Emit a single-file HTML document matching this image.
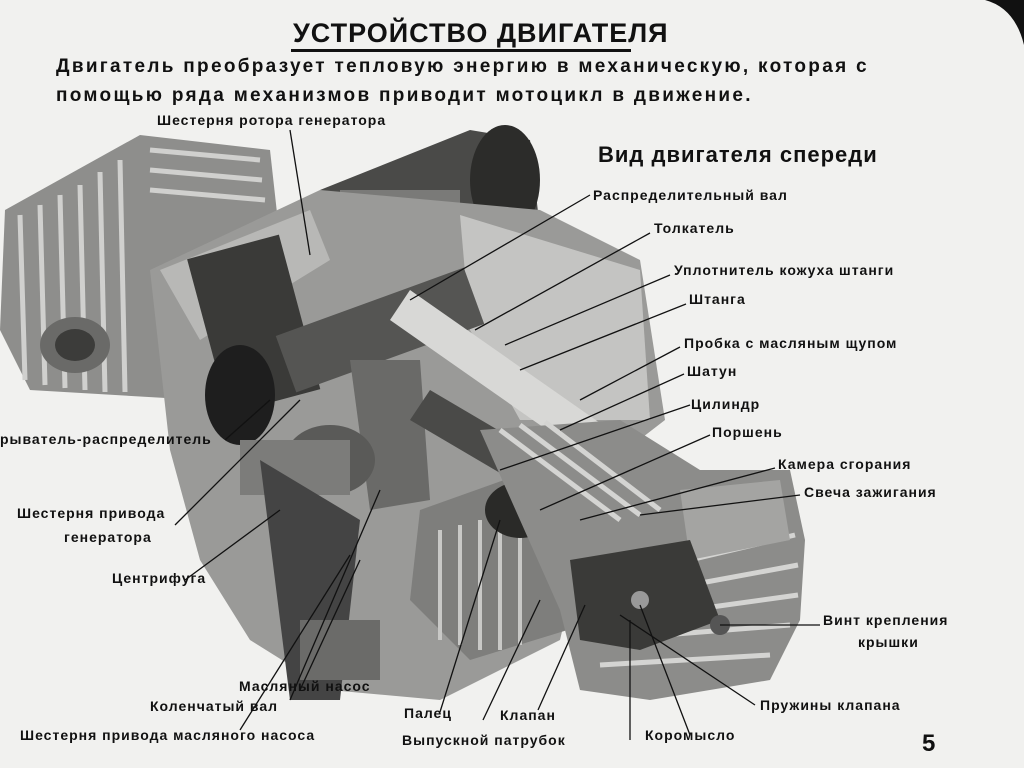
<!DOCTYPE html>
<html><head><meta charset="utf-8"><style>
html,body{margin:0;padding:0;background:#f1f1ef;}
svg{display:block}
text{font-family:"Liberation Sans","DejaVu Sans",sans-serif;fill:#111;}
.l{font-size:14px;letter-spacing:1px;font-weight:bold}
</style></head><body>
<svg width="1024" height="768" viewBox="0 0 1024 768" xmlns="http://www.w3.org/2000/svg">
<rect width="1024" height="768" fill="#f1f1ef"/>
<path d="M985,0 L1024,0 L1024,45 Q1015,8 985,0 Z" fill="#111"/>
<!-- Title -->
<text x="293" y="42" font-size="27" font-weight="bold" letter-spacing="1">УСТРОЙСТВО ДВИГАТЕЛЯ</text>
<rect x="291" y="49" width="340" height="3" fill="#111"/>
<text x="56" y="72" font-size="19" font-weight="bold" letter-spacing="2.3">Двигатель преобразует тепловую энергию в механическую, которая с</text>
<text x="56" y="101" font-size="19" font-weight="bold" letter-spacing="2.3">помощью ряда механизмов приводит мотоцикл в движение.</text>
<text x="598" y="162" font-size="22" font-weight="bold" letter-spacing="1">Вид двигателя спереди</text>

<!-- Engine drawing -->
<g>
<path d="M5,210 L140,135 L270,150 L290,330 L200,400 L30,390 L0,330 Z" fill="#8e8e8c"/>
<g stroke="#d0d0ce" stroke-width="5">
<line x1="20" y1="215" x2="25" y2="380"/><line x1="40" y1="205" x2="45" y2="385"/><line x1="60" y1="195" x2="65" y2="388"/><line x1="80" y1="185" x2="85" y2="390"/><line x1="100" y1="172" x2="105" y2="392"/><line x1="120" y1="160" x2="125" y2="392"/>
<line x1="150" y1="150" x2="260" y2="160"/><line x1="150" y1="170" x2="262" y2="180"/><line x1="150" y1="190" x2="265" y2="200"/>
</g>
<ellipse cx="75" cy="345" rx="35" ry="28" fill="#6a6a68"/>
<ellipse cx="75" cy="345" rx="20" ry="16" fill="#3c3c3a"/>
<path d="M320,190 L470,130 L530,140 L540,230 L430,290 L320,280 Z" fill="#4a4a48"/>
<ellipse cx="505" cy="180" rx="35" ry="55" fill="#2c2c2a"/>
<rect x="340" y="190" width="120" height="80" fill="#7a7a78"/>
<path d="M150,270 L320,190 L540,210 L640,260 L665,420 L600,470 L560,640 L440,700 L330,690 L250,640 L200,560 L170,450 Z" fill="#9a9a98"/>
<path d="M160,270 L310,210 L330,260 L200,340 Z" fill="#b8b8b6"/>
<rect x="205" y="245" width="95" height="160" fill="#3a3a38" transform="rotate(-15 250 320)"/>
<ellipse cx="240" cy="395" rx="35" ry="50" fill="#1e1e1e"/>
<path d="M460,215 L640,270 L650,420 L520,420 L470,330 Z" fill="#c4c4c2"/>
<rect x="280" y="300" width="200" height="60" fill="#555553" transform="rotate(-20 380 330)"/>
<path d="M350,360 L420,360 L430,500 L370,510 Z" fill="#6a6a68"/>
<ellipse cx="330" cy="460" rx="45" ry="35" fill="#5a5a58"/>
<rect x="240" y="440" width="110" height="55" fill="#7c7c7a"/>
<path d="M260,460 L290,700 L340,700 L360,520 Z" fill="#444"/>
<rect x="300" y="620" width="80" height="60" fill="#6b6b69"/>
<path d="M420,510 L560,460 L640,520 L600,620 L470,660 L410,600 Z" fill="#7e7e7c"/>
<g stroke="#c8c8c6" stroke-width="4">
<line x1="440" y1="530" x2="440" y2="640"/><line x1="460" y1="525" x2="460" y2="645"/><line x1="480" y1="520" x2="480" y2="650"/><line x1="500" y1="515" x2="500" y2="650"/><line x1="520" y1="510" x2="520" y2="645"/>
</g>
<path d="M410,290 L610,430 L590,460 L390,320 Z" fill="#d8d8d6"/>
<path d="M430,390 L600,490 L580,520 L410,420 Z" fill="#4a4a48"/>
<ellipse cx="520" cy="510" rx="35" ry="28" fill="#2a2a28"/>
<path d="M480,430 L620,420 L700,470 L790,470 L805,540 L800,620 L770,680 L650,700 L580,690 L560,610 Z" fill="#8c8c8a"/>
<g stroke="#d4d4d2" stroke-width="5">
<line x1="500" y1="430" x2="620" y2="520"/><line x1="520" y1="425" x2="640" y2="515"/><line x1="545" y1="422" x2="660" y2="510"/>
<line x1="690" y1="560" x2="795" y2="535"/><line x1="690" y1="585" x2="798" y2="565"/><line x1="690" y1="610" x2="798" y2="595"/><line x1="600" y1="640" x2="790" y2="625"/><line x1="600" y1="665" x2="770" y2="655"/>
</g>
<path d="M680,490 L780,480 L790,540 L690,560 Z" fill="#a4a4a2"/>
<path d="M570,560 L690,540 L720,620 L640,650 L580,640 Z" fill="#3a3a38"/>
<circle cx="720" cy="625" r="10" fill="#555"/>
<circle cx="640" cy="600" r="9" fill="#999"/>
</g>

<g stroke="#111" stroke-width="1.3" fill="none">
<line x1="290" y1="130" x2="310" y2="255"/>
<line x1="590" y1="195" x2="410" y2="300"/>
<line x1="650" y1="233" x2="475" y2="330"/>
<line x1="670" y1="275" x2="505" y2="345"/>
<line x1="686" y1="304" x2="520" y2="370"/>
<line x1="680" y1="347" x2="580" y2="400"/>
<line x1="684" y1="374" x2="560" y2="430"/>
<line x1="690" y1="405" x2="500" y2="470"/>
<line x1="710" y1="435" x2="540" y2="510"/>
<line x1="775" y1="468" x2="580" y2="520"/>
<line x1="800" y1="495" x2="640" y2="515"/>
<line x1="820" y1="625" x2="720" y2="625"/>
<line x1="755" y1="705" x2="620" y2="615"/>
<line x1="690" y1="735" x2="640" y2="605"/>
<line x1="630" y1="740" x2="630" y2="620"/>
<line x1="538" y1="710" x2="585" y2="605"/>
<line x1="483" y1="720" x2="540" y2="600"/>
<line x1="440" y1="712" x2="500" y2="520"/>
<line x1="300" y1="690" x2="360" y2="560"/>
<line x1="290" y1="700" x2="380" y2="490"/>
<line x1="240" y1="730" x2="350" y2="555"/>
<line x1="185" y1="580" x2="280" y2="510"/>
<line x1="175" y1="525" x2="300" y2="400"/>
<line x1="225" y1="440" x2="270" y2="400"/>
</g>

<text class="l" x="157" y="125">Шестерня ротора генератора</text>
<text class="l" x="593" y="200">Распределительный вал</text>
<text class="l" x="654" y="233">Толкатель</text>
<text class="l" x="674" y="275">Уплотнитель кожуха штанги</text>
<text class="l" x="689" y="304">Штанга</text>
<text class="l" x="684" y="348">Пробка с масляным щупом</text>
<text class="l" x="687" y="376">Шатун</text>
<text class="l" x="691" y="409">Цилиндр</text>
<text class="l" x="712" y="437">Поршень</text>
<text class="l" x="778" y="469">Камера сгорания</text>
<text class="l" x="804" y="497">Свеча зажигания</text>
<text class="l" x="823" y="625">Винт крепления</text>
<text class="l" x="858" y="647">крышки</text>
<text class="l" x="760" y="710">Пружины клапана</text>
<text class="l" x="645" y="740">Коромысло</text>
<text class="l" x="500" y="720">Клапан</text>
<text class="l" x="402" y="745">Выпускной патрубок</text>
<text class="l" x="404" y="718">Палец</text>
<text class="l" x="239" y="691">Масляный насос</text>
<text class="l" x="150" y="711">Коленчатый вал</text>
<text class="l" x="20" y="740">Шестерня привода масляного насоса</text>
<text class="l" x="112" y="583">Центрифуга</text>
<text class="l" x="17" y="518">Шестерня привода</text>
<text class="l" x="64" y="542">генератора</text>
<text class="l" x="0" y="444">рыватель-распределитель</text>
<text x="922" y="751" font-size="24" font-weight="bold">5</text>
</svg>
</body></html>
